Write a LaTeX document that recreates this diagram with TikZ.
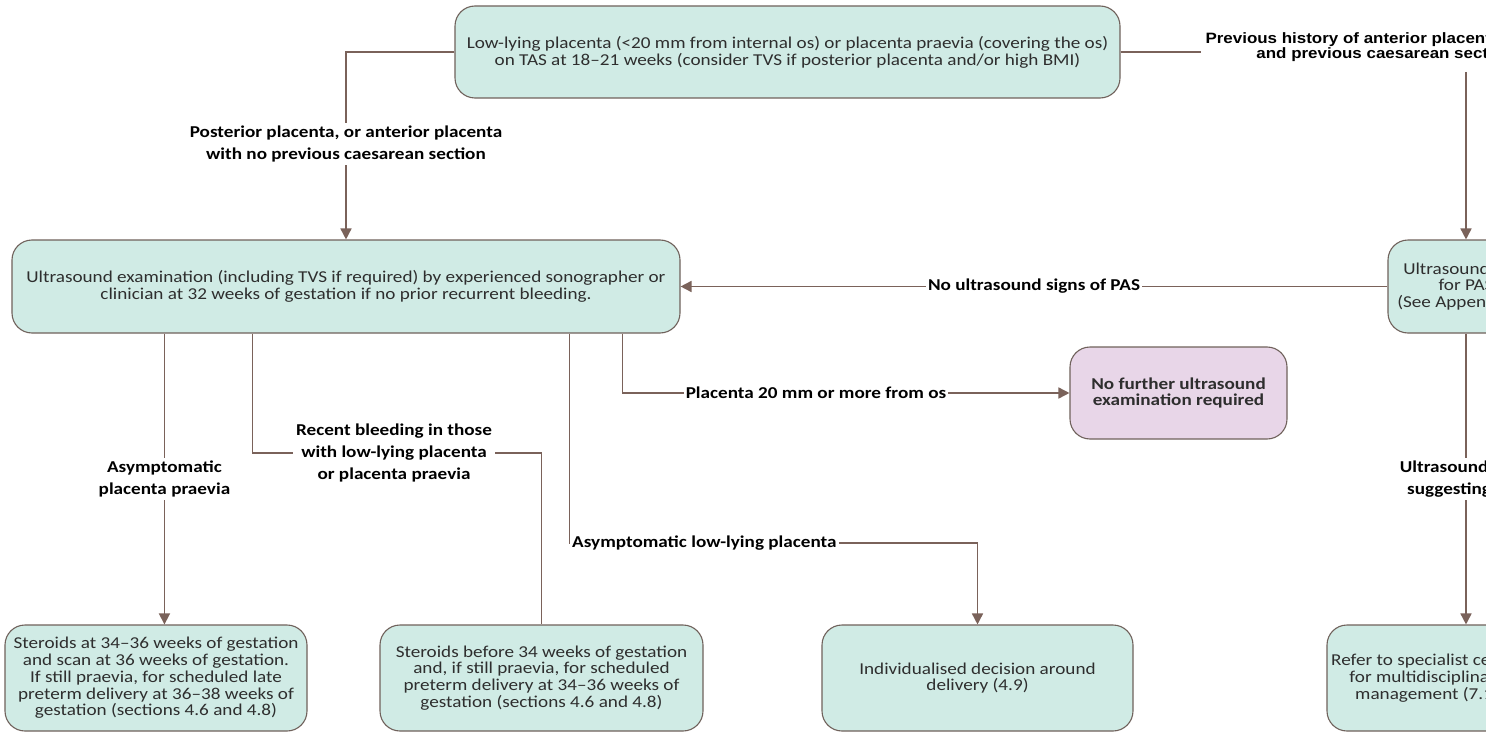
\documentclass[tikz,border=0pt]{standalone}
\usepackage{fontspec}
\setmainfont{Carlito}[FakeStretch=1.155]
\newfontfamily\arialfont{Liberation Sans}[FakeStretch=1.13]
\usetikzlibrary{arrows.meta}
\definecolor{boxfill}{RGB}{208,235,229}
\definecolor{purplefill}{RGB}{232,214,232}
\definecolor{boxedge}{RGB}{112,98,92}
\definecolor{conn}{RGB}{122,98,90}
\newcommand\boxfont{\fontsize{16.6}{16.8}\selectfont}
\newcommand\lblfont{\fontsize{16.6}{22}\selectfont\bfseries}
\tikzset{
  box/.style={draw=boxedge, fill=boxfill, line width=1.1pt, rounded corners=20pt,
    align=center, font=\boxfont, inner sep=0pt, text=black!82},
  pbox/.style={box, fill=purplefill, font=\boxfont\bfseries},
  lbl/.style={font=\lblfont, align=center, fill=white, inner sep=3pt, text=black},
  conline/.style={draw=conn, line width=1.6pt},
  arr/.style={conline, -{Triangle[length=11pt,width=11pt]}},
}
\begin{document}
\begin{tikzpicture}[x=1pt,y=-1pt]
\useasboundingbox (0,0) rectangle (1486,733);
\fill[white] (0,0) rectangle (1486,733);
\clip (0,0) rectangle (1486,733);

% boxes
\node[box, minimum width=665pt, minimum height=92pt] (top) at (787.5,52)
  {Low-lying placenta (<20 mm from internal os) or placenta praevia (covering the os)\\
   on TAS at 18--21 weeks (consider TVS if posterior placenta and/or high BMI)};
\node[box, minimum width=668pt, minimum height=93pt] (main) at (346,286.5)
  {Ultrasound examination (including TVS if required) by experienced sonographer or\\
   clinician at 32 weeks of gestation if no prior recurrent bleeding.};
\node[box, minimum width=156pt, minimum height=93pt] (pas) at (1466,286.5)
  {Ultrasound scan\\for PAS\\(See Appendix IV)};
\node[pbox, minimum width=217pt, minimum height=92pt] (nofurther) at (1178.5,393)
  {No further ultrasound\\examination required};
\node[box, minimum width=302pt, minimum height=106pt] (b1) at (156,678)
  {Steroids at 34--36 weeks of gestation\\and scan at 36 weeks of gestation.\\
   If still praevia, for scheduled late\\preterm delivery at 36--38 weeks of\\
   gestation (sections 4.6 and 4.8)};
\node[box, minimum width=323pt, minimum height=106pt] (b2) at (541.5,678)
  {Steroids before 34 weeks of gestation\\and, if still praevia, for scheduled\\
   preterm delivery at 34--36 weeks of\\gestation (sections 4.6 and 4.8)};
\node[box, minimum width=311pt, minimum height=106pt] (b3) at (977.5,678)
  {Individualised decision around\\delivery (4.9)};
\node[box, minimum width=200pt, minimum height=106pt] (b4) at (1427,678)
  {Refer to specialist centre\\for multidisciplinary\\management (7.1)};

% labels
\node[lbl] (lab1) at (346,144)
  {Posterior placenta, or anterior placenta\\with no previous caesarean section};
\node[lbl, font=\arialfont\bfseries\fontsize{15}{15}\selectfont, inner sep=1pt] (labprev) at (1385,47)
  {Previous history of anterior placenta praevia\\and previous caesarean section};
\node[lbl] (lab2) at (394,453)
  {Recent bleeding in those\\with low-lying placenta\\or placenta praevia};
\node[lbl, anchor=west, inner sep=2pt] (lab3) at (570,543) {Asymptomatic low-lying placenta};
\node[lbl, inner sep=2pt] (lab4) at (816,393) {Placenta 20 mm or more from os};

\coordinate (c1) at (1201,52);
\coordinate (c2) at (1466,72);

% connectors
\draw[conline] (top.west) -| (lab1.north);
\draw[arr] (lab1.south) -- (main.north);
\draw[conline] (top.east) -- (c1);
\draw[arr] (c2) -- (pas.north);
\draw[arr] (pas.west) -- node[lbl, inner sep=2pt] {No ultrasound signs of PAS} (main.east);
\draw[arr] (pas.south) -- node[lbl] {Ultrasound signs\\suggesting PAS} (pas.south |- b4.north);
\draw[arr] ([xshift=153pt]main.south west) -- node[lbl] {Asymptomatic\\placenta praevia}
  ([xshift=153pt]main.south west |- b1.north);
\draw[conline] ([xshift=241pt]main.south west) |- (lab2.west);
\draw[conline] (lab2.east) -| (b2.north);
\draw[conline] ([xshift=558pt]main.south west) |- (lab3.west);
\draw[arr] (lab3.east) -| (b3.north);
\draw[conline] ([xshift=611pt]main.south west) |- (lab4.west);
\draw[arr] (lab4.east) -- (nofurther.west);
\end{tikzpicture}
\end{document}
